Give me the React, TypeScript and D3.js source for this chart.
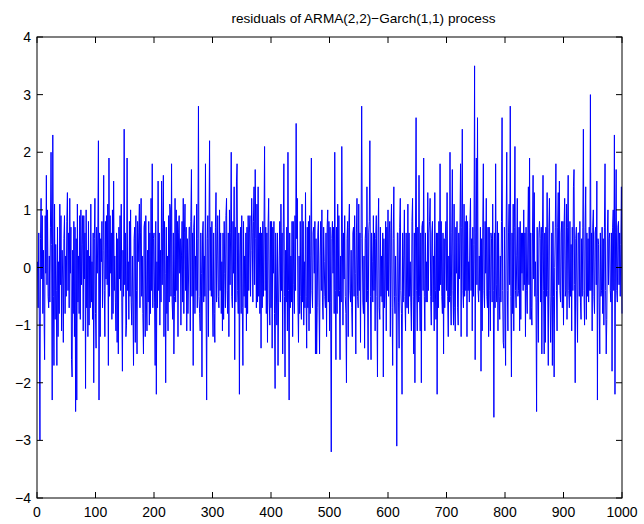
import React from "react";
import * as d3 from "d3";

const titleText = "residuals of ARMA(2,2)\u2212Garch(1,1) process";
const xTicks = [0, 100, 200, 300, 400, 500, 600, 700, 800, 900, 1000];
const yTicks = [-4, -3, -2, -1, 0, 1, 2, 3, 4];

const block0 = [
  0.1,-0.7,0.6,-1.0,-3.0,0.5,1.2,-0.2,0.9,-0.8,
  0.3,-0.8,-1.6,0.9,-0.1,1.6,-0.3,1.0,-0.5,-0.7,
  0.2,-0.6,0.7,2.0,0.4,-2.3,2.3,-0.5,-1.7,1.1,
  -0.9,0.4,-0.4,-1.7,0.7,-1.2,0.1,-0.8,1.1,-0.3,
  0.9,-1.1,0.3,-0.2,-1.3,0.5,0.9,-0.8,0.2,-0.5,
  0.8,1.3,-0.4,0.6,-0.7,1.2,-0.1,0.7,-1.6,-1.9,
  0.3,-0.8,0.8,-1.2,0.7,-2.5,0.5,-2.3,1.1,-0.6,
  0.2,-0.8,0.9,-0.9,1.0,-0.3,0.4,0.9,-1.1,0.9,
  -0.2,0.6,-2.1,1.0,-0.7,0.3,-1.2,0.8,-1.0,0.2,
  -0.7,1.1,-0.6,0.1,-0.9,0.6,-2.0,0.5,1.2,-0.8,
];
const block1 = [
  -1.4,0.7,-0.1,0.6,2.2,-2.3,0.6,-1.2,0.5,0.1,
  0.8,-0.7,0.3,1.6,-0.4,-1.2,0.8,-0.2,0.9,-0.3,
  1.1,-1.7,1.9,-0.5,0.9,-0.1,0.6,-0.9,1.0,-0.8,
  1.5,-0.4,0.2,-0.6,-1.1,0.6,-1.3,0.5,-1.5,0.7,
  -0.2,0.9,-0.4,1.1,-0.6,-1.8,0.3,-0.5,2.4,-0.3,
  0.6,-1.2,-1.0,1.9,-0.4,0.1,-0.9,0.8,-0.5,1.0,
  -0.6,-1.0,0.2,-0.6,-1.7,0.5,0.7,-1.3,0.9,-0.4,
  -1.5,0.8,0.1,0.6,1.1,-0.7,0.6,1.2,-0.5,0.2,
  -0.8,-1.5,0.7,0.8,-1.2,0.9,-0.6,-1.1,0.3,-0.6,
  0.8,-1.0,0.6,-0.8,1.2,-0.4,1.8,-0.7,0.5,0.6,
];
const block2 = [
  -0.6,-1.7,0.8,-2.2,0.1,-0.7,1.5,-0.4,0.6,-1.0,
  0.3,-0.6,1.5,-0.3,0.7,1.6,-1.2,0.8,-0.1,-2.0,
  0.7,-0.8,0.2,-1.1,0.9,-0.6,1.1,1.0,-0.5,1.8,
  -0.6,-0.9,0.6,-1.5,-0.5,1.2,-0.6,1.0,-0.4,0.8,
  -1.2,0.6,0.9,-0.1,0.5,-1.0,0.2,0.8,-0.6,1.2,
  -0.8,0.6,1.1,-0.4,0.7,-1.1,0.5,-0.8,-0.2,0.7,
  0.7,-1.1,0.8,1.7,-0.5,0.6,-1.7,0.7,0.9,-0.8,
  0.2,-0.4,1.1,-0.7,0.5,2.8,-0.5,-0.8,-1.1,0.6,
  -0.1,-1.9,0.6,0.8,-0.6,0.2,-0.5,1.8,-0.6,-2.3,
  0.5,0.9,-1.2,0.6,2.2,-0.4,0.7,-0.5,0.8,-0.6,
];
const block3 = [
  -1.2,0.6,-0.8,-1.3,0.7,1.3,-0.6,0.2,0.9,-0.5,
  -0.7,1.0,-0.4,0.6,-0.8,0.1,-1.1,0.6,-0.9,0.8,
  -0.1,-0.7,0.9,1.2,-0.4,-0.8,0.6,-1.2,1.0,-0.3,
  0.6,2.0,-0.5,-0.7,0.8,-0.1,1.4,-1.6,0.7,-0.6,
  1.5,1.8,-0.4,-0.8,0.6,-2.2,0.2,0.7,-0.8,0.9,
  -0.7,-1.7,0.8,-0.5,0.2,-0.7,0.6,-1.1,0.7,-0.8,
  0.9,-0.4,0.6,0.9,-0.5,0.3,1.2,0.6,-0.6,0.8,
  1.4,-0.3,1.7,0.5,-0.7,1.1,-0.6,1.4,-0.5,0.6,
  -0.8,0.7,-1.4,0.6,-0.7,0.8,-0.5,0.6,2.1,-0.4,
  0.7,-0.8,0.6,-1.3,0.7,1.2,-0.6,-1.0,0.8,-0.7,
];
const block4 = [
  0.8,-1.4,0.7,-0.1,0.8,-0.8,-2.1,0.6,-0.2,-1.0,
  0.6,-1.7,-0.6,0.2,0.8,-0.6,1.1,-0.4,0.6,-1.5,
  0.7,1.8,-0.5,-1.9,0.3,-0.6,0.7,-1.1,2.0,-0.4,
  -2.3,0.6,-0.7,0.2,-0.6,0.8,-1.2,0.8,-0.3,-0.8,
  0.9,-0.4,2.5,0.5,1.2,-0.6,-1.3,0.2,-0.8,0.8,
  -0.5,-0.9,1.1,-0.6,0.8,-1.0,0.1,-0.7,1.3,-0.5,
  -1.4,0.7,-0.7,0.8,-1.1,0.9,-0.8,0.2,1.9,-0.4,
  -0.7,0.6,0.7,-0.1,0.8,-1.5,0.5,-1.5,-0.7,0.6,
  0.8,-0.6,-1.5,0.2,0.8,-0.4,1.0,-0.6,-0.9,0.7,
  0.1,-0.5,-0.7,0.6,-1.2,0.7,1.0,-0.6,0.8,-1.1,
];
const block5 = [
  0.7,-0.6,-3.2,0.5,0.8,-0.1,0.7,-0.8,2.0,-0.4,
  -1.6,0.7,-0.8,1.1,-0.5,0.9,-0.4,-1.6,0.2,-0.6,
  2.1,0.6,-1.0,0.6,-0.2,0.9,-0.5,-0.8,-2.0,0.5,
  0.8,-1.2,0.7,1.1,-0.4,-0.6,0.3,-0.7,-1.2,0.6,
  0.7,-0.5,0.9,-0.1,-1.5,0.6,1.2,-0.5,-0.7,1.1,
  -0.4,0.6,-1.3,0.5,2.8,0.6,-0.6,-0.8,0.2,-1.4,
  0.5,0.7,-0.6,1.4,-0.4,-1.6,0.6,0.8,2.2,-0.5,
  -1.6,0.6,0.1,-0.6,0.9,-0.4,0.6,-1.1,0.5,0.9,
  -0.5,-1.9,0.6,1.2,-0.7,-0.9,0.7,-0.5,0.2,-0.6,
  0.6,-1.9,0.5,-0.7,-0.4,0.8,-1.1,0.7,-0.4,1.0,
];
const block6 = [
  -0.5,0.6,0.8,-1.2,0.6,1.1,-0.7,-1.7,0.5,1.4,
  -0.5,-0.8,0.2,-0.5,-3.1,0.6,0.6,-0.6,-1.4,0.7,
  1.2,-0.4,-0.8,-2.2,0.6,-0.6,0.2,1.0,-0.5,-1.1,
  0.6,-0.7,-0.7,1.1,-0.8,0.6,-0.5,0.1,-0.6,-1.1,
  0.8,1.2,-0.5,-1.5,0.6,-2.0,0.7,2.6,-0.4,-1.1,
  0.7,-0.6,1.6,-0.5,-1.1,0.6,-2.0,0.7,0.8,-0.4,
  1.9,-0.5,-1.1,0.6,-0.6,0.1,-0.6,1.3,-0.4,0.6,
  0.8,1.2,-0.5,-1.0,0.6,0.8,-0.6,0.2,-1.1,1.3,
  -0.4,-0.9,0.6,-2.2,0.6,-0.7,0.8,-0.4,1.8,-0.3,
  0.8,-0.5,-0.8,0.6,-1.5,0.5,-0.7,0.5,0.8,-0.4,
];
const block7 = [
  1.3,-0.5,-1.2,0.2,-0.6,2.0,-0.5,-1.0,0.6,1.7,
  -0.4,-1.0,1.1,-0.7,-1.1,0.7,-0.1,0.8,-0.7,-1.0,
  0.6,-0.2,0.7,1.8,-1.2,0.7,2.4,-0.4,-0.7,1.1,
  -0.5,0.8,-0.4,0.9,-1.2,0.8,-0.4,0.1,-0.6,0.7,
  1.2,-0.4,0.5,-1.1,0.7,-0.5,0.4,3.5,-1.6,0.6,
  1.9,-0.3,2.6,-0.4,-0.6,0.2,-0.4,0.7,-1.8,0.5,
  -1.1,0.7,1.8,-0.4,-0.7,0.8,-0.1,1.2,-0.5,-0.7,
  0.7,-1.2,0.7,-0.4,-1.1,0.6,0.5,-0.6,1.1,-0.4,
  -2.6,0.6,-0.7,1.8,-0.3,-0.6,0.8,-1.1,0.6,-0.5,
  -0.9,0.2,-0.6,0.8,2.6,-0.4,-1.3,-1.4,0.7,-0.6,
];
const block8 = [
  -1.7,0.7,2.0,-0.4,-1.1,0.6,1.1,-0.3,2.8,-0.5,
  -1.9,0.6,-0.8,1.1,-1.1,0.7,2.1,-0.4,-0.7,0.2,
  1.2,-0.5,-0.4,0.7,-1.1,0.8,-0.9,0.6,-0.1,0.6,
  -0.4,1.0,-0.3,0.6,-1.2,0.7,-0.4,-0.8,0.6,1.4,
  -0.3,1.9,-0.9,0.6,-0.7,-1.0,0.6,1.6,-0.2,1.3,
  -0.5,0.1,-0.6,-2.5,0.7,-0.5,-1.3,0.6,0.8,0.5,
  -0.6,0.7,-1.5,0.6,1.6,-0.4,-1.5,0.6,-1.3,0.7,
  -0.5,1.3,-0.4,-1.7,0.7,1.2,-0.5,-1.3,-0.6,0.6,
  -1.7,0.8,-0.5,-1.9,0.0,0.7,1.8,-0.4,-1.1,0.7,
  1.3,-0.3,1.5,-0.4,-0.6,0.6,0.8,-0.7,0.8,-1.0,
];
const block9 = [
  0.7,1.2,-0.5,-0.4,1.1,-0.9,0.7,1.6,-0.4,-0.7,
  0.8,-0.5,0.4,-1.1,0.7,-0.4,1.4,1.7,-0.3,-2.0,
  0.5,0.7,-0.6,-1.3,0.6,0.6,-0.5,0.8,-0.6,-0.9,
  0.5,-0.5,0.7,2.4,-0.4,-1.0,0.7,1.4,-0.9,0.6,
  -0.5,0.5,-0.6,0.7,-0.4,3.0,-0.4,0.6,-1.1,0.7,
  1.0,-0.5,-0.8,0.6,0.7,-0.3,1.5,-2.3,0.5,0.4,
  -0.6,-1.5,0.6,-0.5,-0.4,0.7,-0.8,0.5,-1.0,0.7,
  1.8,-0.4,-1.5,-0.9,0.6,1.0,-0.3,0.5,0.6,-0.4,
  -0.6,0.6,-1.8,0.7,1.0,-0.4,2.3,-2.2,0.6,1.7,
  -0.4,-0.6,0.7,0.8,-0.3,0.6,-0.5,0.4,1.4,-0.8,
];

const residuals = [
  ...block0, ...block1, ...block2, ...block3, ...block4,
  ...block5, ...block6, ...block7, ...block8, ...block9,
];

const W = 644;
const H = 524;
const left = 37;
const right = 622;
const top = 37;
const bottom = 498;
const font = "'Liberation Sans', Arial, Helvetica, sans-serif";
const tickLen = 6;

export default function App() {
  const x = d3.scaleLinear().domain([0, 1000]).range([left, right]);
  const y = d3.scaleLinear().domain([-4, 4]).range([bottom, top]);
  const line = d3
    .line<number>()
    .x((_, i) => x(i + 1))
    .y((d) => y(d));
  const fmt = (v: number) => (v < 0 ? "\u2212" + Math.abs(v) : String(v));

  return (
    <svg
      width={W}
      height={H}
      style={{ position: "absolute", left: 0, top: 0, background: "#fff" }}
    >
      <rect x={0} y={0} width={W} height={H} fill="#fff" />
      <path d={line(residuals) || ""} fill="none" stroke="#0000ff" strokeWidth={1} />
      <rect
        x={left}
        y={top}
        width={right - left}
        height={bottom - top}
        fill="none"
        stroke="#000"
        strokeWidth={1}
      />
      {xTicks.map((t) => (
        <g key={"x" + t}>
          <line x1={x(t)} x2={x(t)} y1={bottom} y2={bottom - tickLen} stroke="#000" />
          <line x1={x(t)} x2={x(t)} y1={top} y2={top + tickLen} stroke="#000" />
          <text
            x={x(t)}
            y={bottom + 19}
            textAnchor="middle"
            fontFamily={font}
            fontSize={14}
            fill="#000"
          >
            {t}
          </text>
        </g>
      ))}
      {yTicks.map((t) => (
        <g key={"y" + t}>
          <line x1={left} x2={left + tickLen} y1={y(t)} y2={y(t)} stroke="#000" />
          <line x1={right} x2={right - tickLen} y1={y(t)} y2={y(t)} stroke="#000" />
          <text
            x={left - 6}
            y={y(t) + 5}
            textAnchor="end"
            fontFamily={font}
            fontSize={14}
            fill="#000"
          >
            {fmt(t)}
          </text>
        </g>
      ))}
      <text
        x={363.5}
        y={23}
        textAnchor="middle"
        fontFamily={font}
        fontSize={13.6}
        fill="#000"
      >
        {titleText}
      </text>
    </svg>
  );
}
